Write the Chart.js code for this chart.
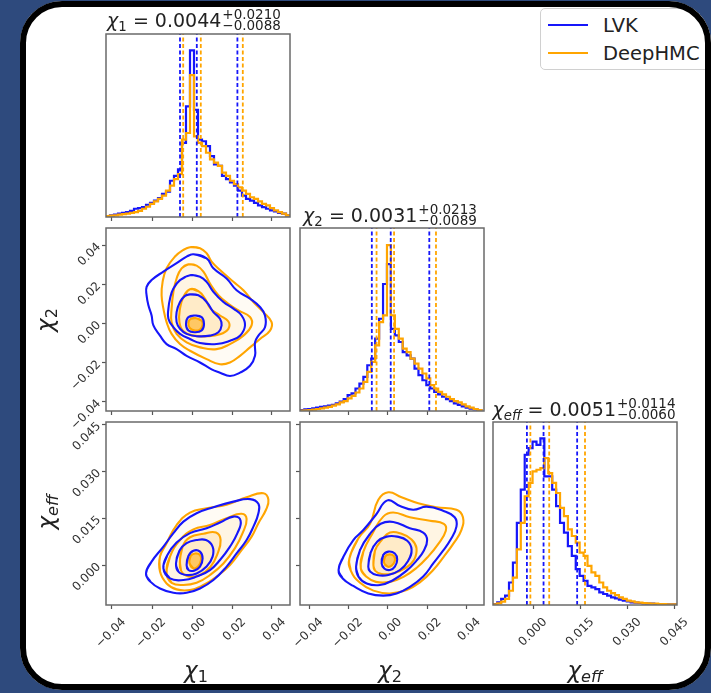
<!DOCTYPE html>
<html><head><meta charset="utf-8">
<script src="https://cdn.jsdelivr.net/npm/chart.js@4.4.1/dist/chart.umd.min.js"></script>
<style>
html,body{margin:0;padding:0;}
body{width:711px;height:693px;overflow:hidden;background:#2e4a7d;position:relative;font-family:"DejaVu Sans",sans-serif;}
#card{position:absolute;left:20px;top:1px;width:691px;height:689px;background:#fff;border-radius:42px;overflow:hidden;}
#inner{position:absolute;left:-20px;top:-1px;width:711px;height:693px;}
#frame{position:absolute;left:20px;top:1px;width:691px;height:689px;border:6px solid #000;border-radius:42px;box-sizing:border-box;}
#inner canvas{position:absolute;}
.ttl{position:absolute;transform:translate(-50%,-50%);display:flex;align-items:center;white-space:nowrap;color:#222;font-size:19px;line-height:1;}
.ttl .sc{display:flex;flex-direction:column;font-size:13.5px;line-height:11px;margin-left:1px;}
.ax{position:absolute;transform:translate(-50%,-50%);font-size:23px;color:#222;white-space:nowrap;line-height:1;}
.ax.rot{transform:translate(-50%,-50%) rotate(-90deg);}
sub{font-size:70%;vertical-align:-0.3em;line-height:0;}
#legend{position:absolute;left:540px;top:8px;width:190px;height:60px;border:1px solid #d0d0d0;border-radius:5px;background:#fff;font-size:19.5px;color:#222;}
.lr{position:absolute;left:0;height:22px;display:flex;align-items:center;}
.sw{display:inline-block;width:40px;height:2.5px;margin-left:7px;margin-right:15px;}
</style></head>
<body>
<div id="card"><div id="inner"></div></div>
<div id="frame"></div>
<script>
// ---------------- data ----------------
const seriesNames = ['LVK', 'DeepHMC'];
const chi1Range = [-0.043, 0.049];
const chi2Range = [-0.0447, 0.0488];
const effRange = [-0.0128, 0.0458];
const chiTickValues = [-0.04, -0.02, 0, 0.02, 0.04];
const chiTickLabels = ['\u22120.04', '\u22120.02', '0.00', '0.02', '0.04'];
const effTickValues = [0, 0.015, 0.03, 0.045];
const effTickLabels = ['0.000', '0.015', '0.030', '0.045'];

// 1D histograms (relative height, % of panel)
const chi1BinStart = -0.043, chi1BinWidth = 0.002;
const chi1HistLVK = [0.5,0.9,1.3,1.8,2.3,2.7,3.4,4.5,4.9,5.4,6.7,7.7,9.0,10.3,12.6,13.9,19.8,22.5,26.1,40.5,60.4,91.0,58.6,42.3,41.4,38.7,33.3,28.8,27.9,22.5,20.7,18.9,17.1,14.4,11.7,9.9,9.0,7.7,6.3,5.4,4.5,3.6,3.1,2.3,1.8,0.9];
const chi1HistDeep = [0.5,0.7,0.9,1.3,1.6,1.8,2.3,2.7,3.4,4.5,5.6,7.2,8.5,9.9,11.7,14.4,17.1,20.7,23.4,42.3,45.9,77.5,44.1,40.5,38.7,35.1,31.5,29.7,27.9,24.3,22.5,19.8,18.0,16.2,14.4,12.6,10.8,9.9,8.5,7.2,6.3,4.9,3.6,2.7,1.8,0.9];
const chi2BinStart = -0.0445, chi2BinWidth = 0.002;
const chi2HistLVK = [0.5,0.9,1.1,1.4,1.8,2.2,2.5,2.9,3.3,4.2,5.1,6.5,8.7,9.6,12.3,15.0,18.7,25.0,28.6,39.5,50.4,69.4,80.3,44.9,41.3,37.7,32.2,30.4,28.6,23.2,19.6,16.8,14.1,12.3,10.5,9.1,7.8,6.5,5.4,4.2,3.3,2.5,1.8,1.3,0.9,0.5];
const chi2HistDeep = [0.2,0.4,0.5,0.7,1.1,1.4,1.8,2.2,2.9,3.6,4.7,5.4,6.9,8.3,10.1,12.3,15.9,21.4,26.8,35.9,48.6,52.2,90.6,52.2,44.9,39.5,34.1,32.2,28.6,25.9,23.2,20.5,17.8,14.1,12.3,10.5,9.1,7.8,6.5,5.4,4.7,3.6,2.5,1.8,1.1,0.5];
const effBinStart = -0.0127, effBinWidth = 0.00125;
const effHistLVK = [0.5,1.4,3.3,5.1,12.3,23.2,44.9,63.0,82.1,85.7,89.3,87.5,91.1,70.3,70.3,63.0,54.0,44.9,39.5,32.2,26.8,19.6,15.9,13.2,10.5,9.6,8.7,6.9,6.0,5.1,4.2,3.6,2.9,2.4,2.0,1.4,1.3,1.1,0.9,0.7,0.7,0.5,0.5,0.5,0.4,0.4,0.4];
const effHistDeep = [0.4,0.9,1.8,3.3,7.8,15.0,30.4,44.9,59.4,66.7,73.0,73.9,74.8,80.3,72.1,66.7,61.2,53.1,48.6,41.3,37.7,34.1,28.6,26.8,21.4,17.8,15.9,12.3,9.6,7.8,6.5,5.4,4.2,3.3,2.4,2.0,1.4,1.3,1.1,0.9,0.7,0.7,0.5,0.5,0.4,0.4,0.4];

// quantiles (16%, 50%, 84%)
const chi1QuantLVK = [-0.0060, 0.0024, 0.0227];
const chi1QuantDeep = [-0.0044, 0.0044, 0.0254];
const chi2QuantLVK = [-0.0082, 0.0014, 0.0210];
const chi2QuantDeep = [-0.0058, 0.0031, 0.0244];
const effQuantLVK = [-0.0020, 0.0033, 0.0140];
const effQuantDeep = [-0.0009, 0.0051, 0.0165];

// titles
const titleSymbols = ['<i>\u03c7</i><sub>1</sub>', '<i>\u03c7</i><sub>2</sub>', '<i>\u03c7</i><sub><i>eff</i></sub>'];
const titleMedians = ['0.0044', '0.0031', '0.0051'];
const titleUpper = ['0.0210', '0.0213', '0.0114'];
const titleLower = ['0.0088', '0.0089', '0.0060'];

// 2D contours (inner -> outer), points [x, y]
const c12LVK = [
  [[0.0015,0.0041],[0.0048,0.0033],[0.0060,-0.0002],[0.0048,-0.0036],[0.0015,-0.0045],[-0.0018,-0.0036],[-0.0030,-0.0002],[-0.0018,0.0033]],
  [[-0.0010,0.0149],[0.0032,0.0144],[0.0073,0.0110],[0.0107,0.0058],[0.0140,0.0024],[0.0148,-0.0010],[0.0132,-0.0045],[0.0090,-0.0062],[0.0023,-0.0065],[-0.0027,-0.0053],[-0.0060,-0.0027],[-0.0077,0.0007],[-0.0077,0.0058],[-0.0060,0.0110],[-0.0035,0.0141]],
  [[-0.0010,0.0247],[0.0040,0.0239],[0.0073,0.0213],[0.0107,0.0162],[0.0157,0.0110],[0.0207,0.0076],[0.0248,0.0041],[0.0265,-0.0010],[0.0240,-0.0062],[0.0190,-0.0088],[0.0123,-0.0105],[0.0040,-0.0100],[-0.0010,-0.0079],[-0.0060,-0.0053],[-0.0093,-0.0019],[-0.0118,0.0024],[-0.0118,0.0076],[-0.0110,0.0127],[-0.0093,0.0179],[-0.0060,0.0222]],
  [[0.0007,0.0354],[0.0073,0.0333],[0.0107,0.0282],[0.0173,0.0230],[0.0223,0.0170],[0.0290,0.0127],[0.0340,0.0084],[0.0365,0.0041],[0.0365,-0.0019],[0.0332,-0.0062],[0.0315,-0.0096],[0.0315,-0.0165],[0.0290,-0.0216],[0.0240,-0.0251],[0.0190,-0.0268],[0.0140,-0.0251],[0.0098,-0.0234],[0.0040,-0.0199],[-0.0027,-0.0165],[-0.0077,-0.0131],[-0.0127,-0.0105],[-0.0160,-0.0062],[-0.0193,-0.0010],[-0.0202,0.0041],[-0.0218,0.0093],[-0.0227,0.0144],[-0.0227,0.0187],[-0.0202,0.0222],[-0.0143,0.0265],[-0.0077,0.0308],[-0.0027,0.0342]]
];
const c12Deep = [
  [[0.0020,0.0027],[0.0048,0.0015],[0.0053,-0.0007],[0.0040,-0.0031],[0.0015,-0.0036],[-0.0010,-0.0024],[-0.0018,0.0003],[-0.0007,0.0024]],
  [[-0.0010,0.0175],[0.0032,0.0165],[0.0065,0.0127],[0.0093,0.0076],[0.0140,0.0041],[0.0182,0.0010],[0.0182,-0.0027],[0.0140,-0.0055],[0.0073,-0.0065],[0.0007,-0.0062],[-0.0043,-0.0040],[-0.0063,0.0007],[-0.0060,0.0076],[-0.0043,0.0136]],
  [[-0.0018,0.0302],[0.0023,0.0296],[0.0057,0.0265],[0.0090,0.0204],[0.0132,0.0144],[0.0182,0.0101],[0.0232,0.0067],[0.0290,0.0033],[0.0298,-0.0010],[0.0257,-0.0062],[0.0190,-0.0105],[0.0123,-0.0131],[0.0040,-0.0122],[-0.0027,-0.0096],[-0.0077,-0.0053],[-0.0102,0.0007],[-0.0102,0.0076],[-0.0093,0.0162],[-0.0077,0.0230],[-0.0052,0.0282]],
  [[-0.0010,0.0390],[0.0040,0.0385],[0.0073,0.0359],[0.0098,0.0316],[0.0140,0.0273],[0.0207,0.0213],[0.0257,0.0170],[0.0307,0.0110],[0.0357,0.0058],[0.0398,0.0007],[0.0390,-0.0036],[0.0340,-0.0079],[0.0290,-0.0122],[0.0240,-0.0165],[0.0190,-0.0199],[0.0140,-0.0208],[0.0073,-0.0182],[-0.0010,-0.0139],[-0.0060,-0.0105],[-0.0102,-0.0053],[-0.0127,0.0007],[-0.0143,0.0076],[-0.0152,0.0144],[-0.0147,0.0213],[-0.0127,0.0282],[-0.0085,0.0342],[-0.0043,0.0376]]
];
const c1eLVK = [
  [[-0.0027,0.0000],[-0.0018,0.0029],[0.0007,0.0046],[0.0040,0.0043],[0.0053,0.0021],[0.0040,-0.0005],[0.0010,-0.0018],[-0.0018,-0.0016]],
  [[-0.0080,0.0005],[-0.0063,0.0046],[-0.0027,0.0070],[0.0023,0.0080],[0.0070,0.0080],[0.0103,0.0059],[0.0103,0.0027],[0.0073,-0.0005],[0.0023,-0.0027],[-0.0027,-0.0032],[-0.0068,-0.0021]],
  [[-0.0143,-0.0011],[-0.0123,0.0032],[-0.0077,0.0072],[-0.0010,0.0102],[0.0073,0.0118],[0.0140,0.0136],[0.0207,0.0155],[0.0243,0.0142],[0.0227,0.0102],[0.0190,0.0059],[0.0140,0.0016],[0.0090,-0.0016],[0.0023,-0.0037],[-0.0043,-0.0048],[-0.0110,-0.0043]],
  [[-0.0230,-0.0027],[-0.0202,0.0011],[-0.0143,0.0059],[-0.0093,0.0102],[-0.0043,0.0139],[0.0023,0.0166],[0.0107,0.0185],[0.0207,0.0203],[0.0290,0.0211],[0.0332,0.0196],[0.0332,0.0166],[0.0307,0.0123],[0.0273,0.0080],[0.0223,0.0037],[0.0173,-0.0005],[0.0107,-0.0048],[0.0040,-0.0075],[-0.0027,-0.0089],[-0.0093,-0.0089],[-0.0160,-0.0075],[-0.0207,-0.0054]]
];
const c1eDeep = [
  [[-0.0013,0.0007],[-0.0007,0.0029],[0.0015,0.0037],[0.0040,0.0032],[0.0045,0.0016],[0.0032,-0.0003],[0.0007,-0.0011]],
  [[-0.0060,0.0016],[-0.0047,0.0059],[-0.0010,0.0089],[0.0057,0.0100],[0.0120,0.0104],[0.0143,0.0080],[0.0127,0.0035],[0.0093,-0.0005],[0.0040,-0.0032],[-0.0018,-0.0037],[-0.0055,-0.0018]],
  [[-0.0127,-0.0027],[-0.0110,0.0027],[-0.0060,0.0080],[0.0007,0.0114],[0.0090,0.0128],[0.0173,0.0150],[0.0248,0.0164],[0.0273,0.0147],[0.0253,0.0102],[0.0215,0.0054],[0.0157,0.0005],[0.0090,-0.0032],[0.0023,-0.0057],[-0.0043,-0.0064],[-0.0102,-0.0057]],
  [[-0.0160,0.0027],[-0.0127,0.0070],[-0.0077,0.0128],[-0.0010,0.0168],[0.0073,0.0182],[0.0173,0.0193],[0.0273,0.0217],[0.0357,0.0230],[0.0382,0.0209],[0.0370,0.0177],[0.0332,0.0134],[0.0298,0.0091],[0.0248,0.0048],[0.0190,0.0000],[0.0123,-0.0037],[0.0057,-0.0064],[-0.0010,-0.0080],[-0.0077,-0.0078],[-0.0127,-0.0059],[-0.0160,-0.0021]]
];
const c2eLVK = [
  [[-0.0032,0.0005],[-0.0024,0.0032],[0.0002,0.0043],[0.0035,0.0037],[0.0047,0.0018],[0.0035,-0.0005],[0.0010,-0.0016],[-0.0019,-0.0011]],
  [[-0.0100,-0.0005],[-0.0088,0.0040],[-0.0054,0.0075],[-0.0007,0.0091],[0.0047,0.0091],[0.0098,0.0078],[0.0120,0.0050],[0.0103,0.0014],[0.0061,-0.0016],[0.0002,-0.0032],[-0.0057,-0.0032],[-0.0091,-0.0021]],
  [[-0.0162,-0.0005],[-0.0142,0.0048],[-0.0091,0.0100],[-0.0037,0.0132],[0.0027,0.0138],[0.0111,0.0118],[0.0179,0.0104],[0.0199,0.0080],[0.0182,0.0046],[0.0145,0.0014],[0.0095,-0.0018],[0.0027,-0.0048],[-0.0041,-0.0064],[-0.0108,-0.0059],[-0.0150,-0.0037]],
  [[-0.0251,-0.0016],[-0.0226,0.0027],[-0.0176,0.0080],[-0.0125,0.0112],[-0.0061,0.0161],[-0.0003,0.0207],[0.0061,0.0189],[0.0128,0.0177],[0.0196,0.0187],[0.0280,0.0174],[0.0339,0.0153],[0.0348,0.0123],[0.0317,0.0080],[0.0280,0.0046],[0.0230,0.0005],[0.0179,-0.0037],[0.0111,-0.0070],[0.0044,-0.0091],[-0.0024,-0.0098],[-0.0100,-0.0091],[-0.0176,-0.0067],[-0.0230,-0.0043]]
];
const c2eDeep = [
  [[-0.0020,0.0007],[-0.0015,0.0027],[0.0007,0.0034],[0.0030,0.0029],[0.0035,0.0014],[0.0019,-0.0002],[-0.0003,-0.0005]],
  [[-0.0074,0.0000],[-0.0066,0.0046],[-0.0032,0.0080],[0.0010,0.0104],[0.0069,0.0100],[0.0120,0.0082],[0.0145,0.0054],[0.0132,0.0016],[0.0086,-0.0011],[0.0027,-0.0027],[-0.0032,-0.0029],[-0.0066,-0.0018]],
  [[-0.0138,-0.0011],[-0.0125,0.0043],[-0.0078,0.0102],[-0.0024,0.0155],[0.0027,0.0168],[0.0111,0.0153],[0.0213,0.0142],[0.0284,0.0132],[0.0294,0.0110],[0.0255,0.0067],[0.0204,0.0027],[0.0149,-0.0007],[0.0081,-0.0037],[0.0010,-0.0054],[-0.0061,-0.0054],[-0.0111,-0.0037]],
  [[-0.0196,0.0021],[-0.0150,0.0086],[-0.0091,0.0132],[-0.0049,0.0209],[0.0002,0.0233],[0.0069,0.0217],[0.0154,0.0198],[0.0246,0.0185],[0.0348,0.0177],[0.0381,0.0153],[0.0373,0.0112],[0.0334,0.0070],[0.0284,0.0027],[0.0230,-0.0016],[0.0165,-0.0054],[0.0095,-0.0080],[0.0010,-0.0091],[-0.0074,-0.0082],[-0.0142,-0.0057],[-0.0189,-0.0018]]
];

// ---------------- styles / layout ----------------
const BLUE = 'rgb(22,22,250)';
const ORANGE = 'rgb(255,165,0)';
const deepFills = ['rgba(255,165,0,0.5)', 'rgba(255,165,0,0.12)', 'rgba(255,165,0,0.07)', 'rgba(255,165,0,0.045)'];
const colX = [106, 300, 493];
const rowY = [34, 228, 422];
const PW = 184, PH = 183;
const L = 62, B = 64, T = 14, R = 14;
const inner = document.getElementById('inner');

const framePlugin = {
  id: 'frame',
  afterDraw(chart) {
    const a = chart.chartArea, c = chart.ctx;
    c.save(); c.strokeStyle = '#6a6a6a'; c.lineWidth = 1.5;
    c.strokeRect(a.left, a.top, a.right - a.left, a.bottom - a.top);
    c.restore();
  }
};

function axis(pos, range, vals, labels, showLabels, withTicks) {
  const horiz = pos === 'bottom';
  return {
    type: 'linear', position: pos, min: range[0], max: range[1], display: true,
    afterBuildTicks: s => { s.ticks = vals.map(v => ({ value: v })); },
    afterFit: s => { if (horiz) s.height = B; else s.width = L; },
    grid: { display: withTicks, drawOnChartArea: false, drawTicks: true, tickLength: 4, tickColor: '#555', tickWidth: 1.2 },
    border: { display: false },
    ticks: { display: showLabels, autoSkip: false, minRotation: 45, maxRotation: 45,
      padding: horiz ? 6 : 3, labelOffset: horiz ? 12 : 0, color: '#333',
      font: { family: 'DejaVu Sans', size: 12 }, callback: (v, i) => labels[i] }
  };
}

function makePanel(col, row, xAxis, yAxis, datasets) {
  const cv = document.createElement('canvas');
  cv.width = PW + L + R; cv.height = PH + T + B;
  cv.style.left = (colX[col] - L) + 'px';
  cv.style.top = (rowY[row] - T) + 'px';
  cv.style.width = cv.width + 'px'; cv.style.height = cv.height + 'px';
  inner.appendChild(cv);
  new Chart(cv, {
    type: 'scatter',
    data: { datasets },
    options: {
      responsive: false, maintainAspectRatio: false, animation: false, events: [],
      layout: { padding: { left: 0, bottom: 0, top: T, right: R } },
      plugins: { legend: { display: false }, tooltip: { enabled: false }, filler: { drawTime: 'beforeDatasetsDraw' } },
      elements: { point: { radius: 0 } },
      scales: { x: xAxis, y: yAxis }
    },
    plugins: [framePlugin]
  });
}

function stepSet(start, width, vals, color) {
  const pts = [{ x: start, y: 0 }];
  vals.forEach((v, i) => pts.push({ x: start + i * width, y: v }));
  pts.push({ x: start + vals.length * width, y: vals[vals.length - 1] });
  pts.push({ x: start + vals.length * width, y: 0 });
  return { data: pts, showLine: true, stepped: true, borderColor: color, borderWidth: 2.2, pointRadius: 0, fill: false };
}
function vline(q, color) {
  return { data: [{ x: q, y: 0 }, { x: q, y: 100 }], showLine: true, borderColor: color, borderWidth: 1.8, borderDash: [4, 2.5], pointRadius: 0, fill: false };
}
function histSets(start, width, lvk, deep, qL, qD) {
  const ds = [];
  qD.forEach(q => ds.push(vline(q, ORANGE)));
  qL.forEach(q => ds.push(vline(q, BLUE)));
  ds.push(stepSet(start, width, deep, ORANGE));
  ds.push(stepSet(start, width, lvk, BLUE));
  return ds;
}
function loop(pts) {
  const p = pts.map(a => ({ x: a[0], y: a[1] }));
  return [p[p.length - 1], ...p, p[0], p[1]];
}
function contourSets(lvk, deep) {
  const ds = [];
  lvk.forEach(pts => ds.push({ data: loop(pts), showLine: true, tension: 0.45, borderColor: BLUE, borderWidth: 2.1, pointRadius: 0, fill: false }));
  deep.forEach((pts, k) => ds.push({ data: loop(pts), showLine: true, tension: 0.45, borderColor: ORANGE, borderWidth: 2.1, pointRadius: 0, fill: 'shape', backgroundColor: deepFills[k] }));
  return ds;
}

const histY = () => axis('left', [0, 100], [], [], false, false);

// row 0
makePanel(0, 0, axis('bottom', chi1Range, chiTickValues, chiTickLabels, false, true), histY(),
  histSets(chi1BinStart, chi1BinWidth, chi1HistLVK, chi1HistDeep, chi1QuantLVK, chi1QuantDeep));
// row 1
makePanel(0, 1, axis('bottom', chi1Range, chiTickValues, chiTickLabels, false, true),
  axis('left', chi2Range, chiTickValues, chiTickLabels, true, true), contourSets(c12LVK, c12Deep));
makePanel(1, 1, axis('bottom', chi2Range, chiTickValues, chiTickLabels, false, true), histY(),
  histSets(chi2BinStart, chi2BinWidth, chi2HistLVK, chi2HistDeep, chi2QuantLVK, chi2QuantDeep));
// row 2
makePanel(0, 2, axis('bottom', chi1Range, chiTickValues, chiTickLabels, true, true),
  axis('left', effRange, effTickValues, effTickLabels, true, true), contourSets(c1eLVK, c1eDeep));
makePanel(1, 2, axis('bottom', chi2Range, chiTickValues, chiTickLabels, true, true),
  axis('left', effRange, effTickValues, effTickLabels, false, true), contourSets(c2eLVK, c2eDeep));
makePanel(2, 2, axis('bottom', effRange, effTickValues, effTickLabels, true, true), histY(),
  histSets(effBinStart, effBinWidth, effHistLVK, effHistDeep, effQuantLVK, effQuantDeep));

// titles
const titlePos = [[194, 20], [390, 215], [584, 409]];
titleSymbols.forEach((sym, i) => {
  const d = document.createElement('div');
  d.className = 'ttl';
  d.style.left = titlePos[i][0] + 'px'; d.style.top = titlePos[i][1] + 'px';
  d.innerHTML = '<span>' + sym + ' = ' + titleMedians[i] + '</span><span class="sc"><span>+' + titleUpper[i] + '</span><span>\u2212' + titleLower[i] + '</span></span>';
  inner.appendChild(d);
});
// axis labels
const axisLabels = [
  [titleSymbols[1], 45, 320, true], [titleSymbols[2], 46, 512, true],
  [titleSymbols[0], 196, 670, false], [titleSymbols[1], 390, 670, false], [titleSymbols[2], 585, 670, false]
];
axisLabels.forEach(a => {
  const d = document.createElement('div');
  d.className = 'ax' + (a[3] ? ' rot' : '');
  d.style.left = a[1] + 'px'; d.style.top = a[2] + 'px';
  d.innerHTML = a[0];
  inner.appendChild(d);
});
// legend
const lg = document.createElement('div');
lg.id = 'legend';
lg.innerHTML = seriesNames.map((n, i) => '<div class="lr" style="top:' + (5 + i * 28) + 'px"><span class="sw" style="background:' + (i ? ORANGE : BLUE) + '"></span>' + n + '</div>').join('');
inner.appendChild(lg);
</script>
</body></html>
